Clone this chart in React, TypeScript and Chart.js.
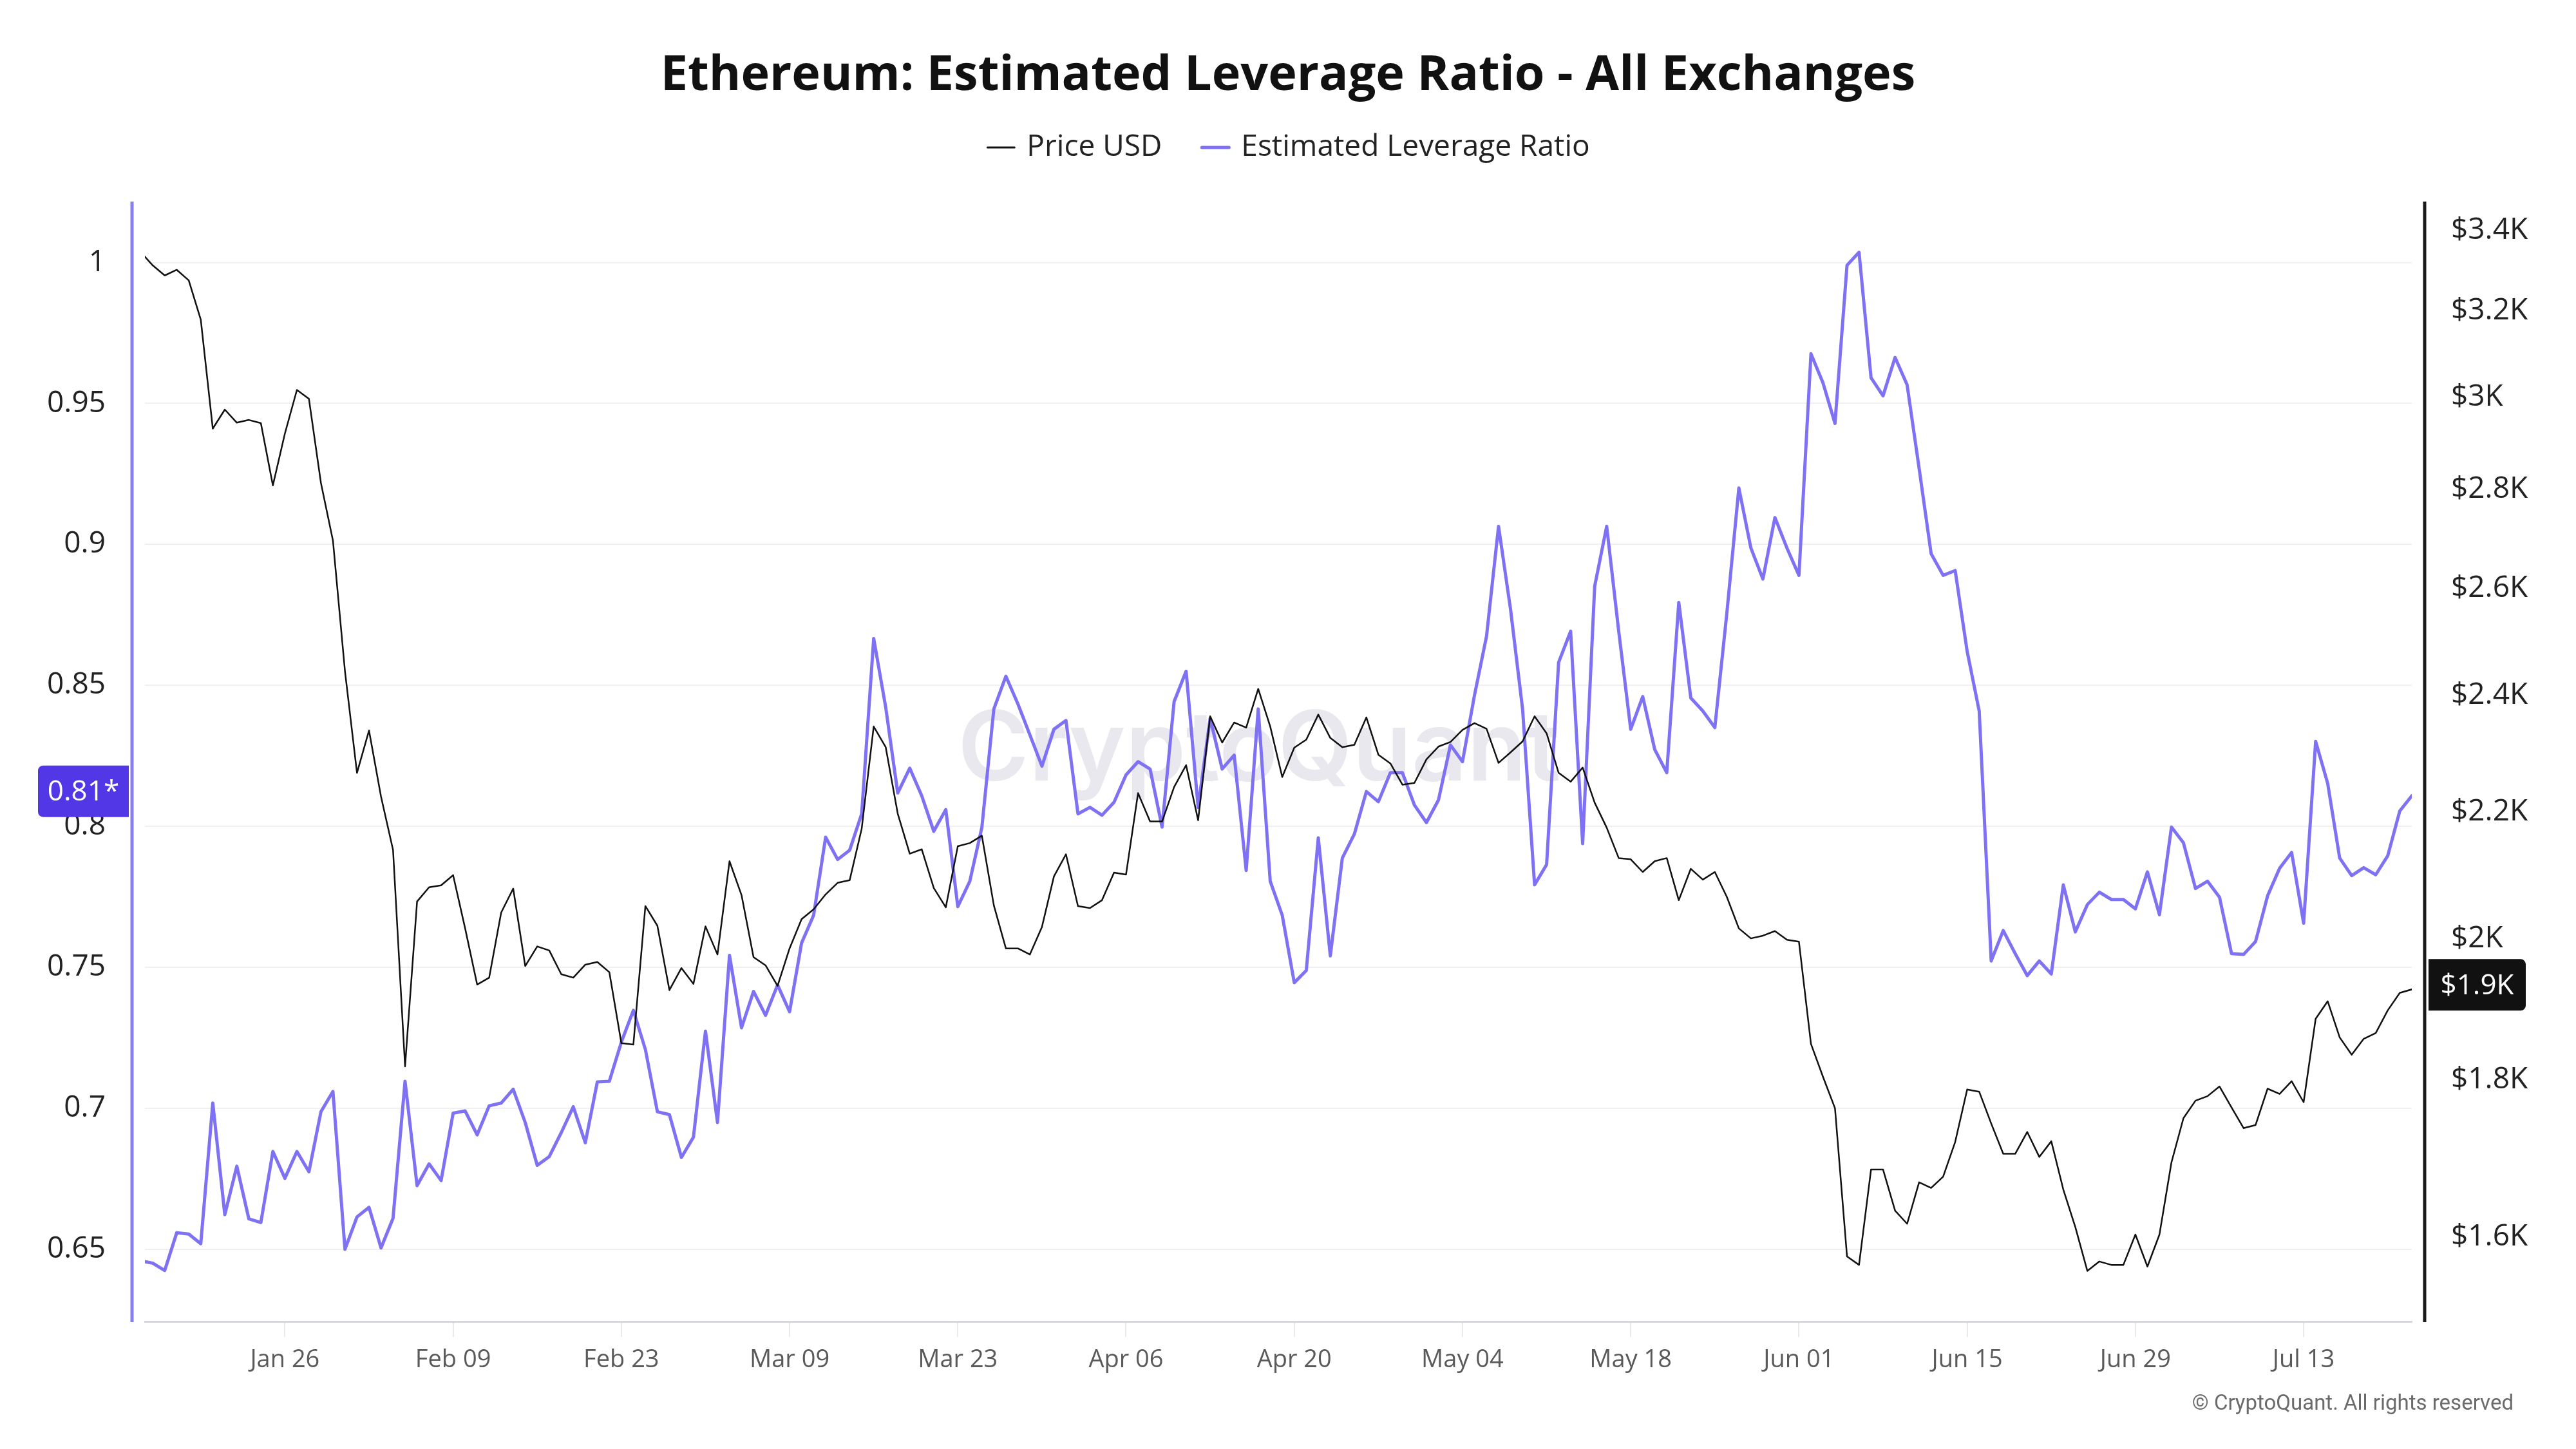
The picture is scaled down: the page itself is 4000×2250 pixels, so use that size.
import React, { useEffect, useRef } from "react";
import { Chart, registerables } from "chart.js";

Chart.register(...registerables);

// ---- data ----
// daily values from Jan 14 (day -1, partly clipped) to Jul 22 (day 188); day 0 = Jan 15
const firstDayIndex = -1;

const tickDays = [11, 25, 39, 53, 67, 81, 95, 109, 123, 137, 151, 165, 179];
const tickLabels = ["Jan 26", "Feb 09", "Feb 23", "Mar 09", "Mar 23", "Apr 06", "Apr 20", "May 04", "May 18", "Jun 01", "Jun 15", "Jun 29", "Jul 13"];

const leverageTicks = [0.65, 0.7, 0.75, 0.8, 0.85, 0.9, 0.95, 1];
const priceTicks = [1600, 1800, 2000, 2200, 2400, 2600, 2800, 3000, 3200, 3400];

const priceUsd = [
  3345,
  3312, 3287, 3301, 3275, 3180, 2931, 2973, 2944, 2950, 2943,
  2809, 2920, 3017, 2997, 2814, 2695, 2444, 2265, 2338, 2225,
  2138, 1818, 2057, 2079, 2082, 2098, 2016, 1933, 1943, 2040,
  2077, 1960, 1989, 1983, 1948, 1943, 1962, 1966, 1951, 1850,
  1848, 2050, 2020, 1925, 1957, 1934, 2019, 1977, 2120, 2067,
  1973, 1961, 1931, 1986, 2030, 2045, 2068, 2086, 2090, 2172,
  2345, 2309, 2197, 2132, 2139, 2078, 2048, 2144, 2149, 2161,
  2051, 1986, 1986, 1977, 2018, 2096, 2131, 2050, 2047, 2059,
  2102, 2099, 2231, 2184, 2184, 2241, 2278, 2186, 2363, 2317,
  2352, 2343, 2412, 2345, 2258, 2308, 2322, 2366, 2325, 2309,
  2313, 2361, 2296, 2281, 2245, 2248, 2288, 2310, 2318, 2339,
  2351, 2341, 2282, 2300, 2319, 2363, 2333, 2265, 2250, 2274,
  2215, 2174, 2125, 2123, 2103, 2120, 2125, 2059, 2108, 2091,
  2103, 2064, 2016, 2001, 2005, 2012, 1999, 1996, 1849, 1804,
  1762, 1577, 1567, 1683, 1683, 1632, 1616, 1667, 1660, 1674,
  1718, 1787, 1784, 1742, 1703, 1703, 1731, 1699, 1719, 1658,
  1612, 1560, 1571, 1567, 1567, 1603, 1565, 1603, 1692, 1749,
  1772, 1778, 1791, 1763, 1736, 1740, 1788, 1781, 1798, 1770,
  1884, 1909, 1858, 1834, 1856, 1864, 1896, 1921, 1926,
];

const leverageRatio = [
  0.6458,
  0.645, 0.6424, 0.6558, 0.6553, 0.6519, 0.7018, 0.6622, 0.6794, 0.6607, 0.6594,
  0.6846, 0.6751, 0.6846, 0.6774, 0.6987, 0.7059, 0.6499, 0.6614, 0.6648, 0.6504,
  0.6609, 0.7095, 0.6725, 0.6802, 0.6743, 0.6982, 0.699, 0.6905, 0.7008, 0.7018,
  0.7067, 0.6949, 0.6797, 0.6828, 0.6913, 0.7005, 0.6877, 0.7093, 0.7095, 0.7234,
  0.7347, 0.7208, 0.6987, 0.6977, 0.6825, 0.6897, 0.7273, 0.6949, 0.7542, 0.7285,
  0.7414, 0.7329, 0.7437, 0.7342, 0.7586, 0.7684, 0.7961, 0.7882, 0.7915, 0.8044,
  0.8666, 0.8422, 0.8118, 0.8206, 0.8108, 0.7982, 0.8059, 0.7715, 0.7805, 0.7995,
  0.8416, 0.8532, 0.8434, 0.8324, 0.8213, 0.8344, 0.8375, 0.8044, 0.8067, 0.8039,
  0.8085, 0.8182, 0.8229, 0.8203, 0.7997, 0.8442, 0.855, 0.8067, 0.8383, 0.8203,
  0.8252, 0.7843, 0.8416, 0.7805, 0.7684, 0.7445, 0.7488, 0.7959, 0.754, 0.7887,
  0.7972, 0.8123, 0.8087, 0.819, 0.819, 0.8075, 0.8013, 0.8093, 0.8288, 0.8229,
  0.8465, 0.8674, 0.9064, 0.8769, 0.8416, 0.7792, 0.7864, 0.8581, 0.8692, 0.7938,
  0.8851, 0.9064, 0.8692, 0.8344, 0.846, 0.8272, 0.819, 0.8794, 0.8455, 0.8409,
  0.835, 0.8756, 0.92, 0.8987, 0.8877, 0.9095, 0.8987, 0.889, 0.9676, 0.9573,
  0.9429, 0.999, 1.0036, 0.9591, 0.9527, 0.9663, 0.9566, 0.927, 0.8967, 0.889,
  0.8907, 0.862, 0.8409, 0.7522, 0.763, 0.7548, 0.747, 0.7522, 0.7476, 0.7792,
  0.7625, 0.7722, 0.7766, 0.774, 0.774, 0.7707, 0.7838, 0.7686, 0.7997, 0.7941,
  0.7779, 0.7805, 0.7748, 0.7548, 0.7545, 0.7591, 0.7753, 0.7851, 0.7907, 0.7656,
  0.8301, 0.8152, 0.7887, 0.7825, 0.7853, 0.7828, 0.7895, 0.8054, 0.8108,
];

// ---- styles ----
const PURPLE = "#7f71f3";
const PURPLE_AXIS = "#8a7ff0";
const BADGE_PURPLE = "#5137e6";
const BLACK = "#111111";
const FONT = '"Open Sans", "Noto Sans", sans-serif';

const W = 4000;
const H = 2250;

const toPoints = (arr: number[]) => arr.map((v, k) => ({ x: k + firstDayIndex, y: v }));

const watermarkPlugin = {
  id: "watermark",
  beforeDatasetsDraw(chart: any) {
    const { ctx, chartArea } = chart;
    ctx.save();
    ctx.font = `600 150px Inter, ${FONT}`;
    ctx.fillStyle = "#e8e8ee";
    ctx.textAlign = "center";
    ctx.textBaseline = "middle";
    ctx.fillText("CryptoQuant", (chartArea.left + chartArea.right) / 2 - 30, (chartArea.top + chartArea.bottom) / 2 - 16);
    ctx.restore();
  },
};

function roundRectPath(ctx: any, x: number, y: number, w: number, h: number, r: number[]) {
  ctx.beginPath();
  if (ctx.roundRect) {
    ctx.roundRect(x, y, w, h, r);
  } else {
    ctx.rect(x, y, w, h);
  }
}

const overlayPlugin = {
  id: "overlay",
  afterDraw(chart: any) {
    const { ctx, chartArea, scales } = chart;
    ctx.save();

    // axis lines, offset from the plot
    ctx.lineCap = "butt";
    ctx.lineWidth = 5;
    ctx.strokeStyle = PURPLE_AXIS;
    ctx.beginPath();
    ctx.moveTo(chartArea.left - 20, chartArea.top);
    ctx.lineTo(chartArea.left - 20, chartArea.bottom + 1);
    ctx.stroke();
    ctx.strokeStyle = "#1a1a1a";
    ctx.beginPath();
    ctx.moveTo(chartArea.right + 20, chartArea.top);
    ctx.lineTo(chartArea.right + 20, chartArea.bottom + 1);
    ctx.stroke();

    // last-value badges
    const lastLev = leverageRatio[leverageRatio.length - 1];
    const lastPrice = priceUsd[priceUsd.length - 1];
    const ly = scales.y.getPixelForValue(lastLev) - 7;
    const py = scales.y1.getPixelForValue(lastPrice) - 7;
    ctx.font = `44px ${FONT}`;
    ctx.textAlign = "center";
    ctx.textBaseline = "middle";

    const lw = 141;
    const lx = chartArea.left - 25 - lw;
    ctx.fillStyle = BADGE_PURPLE;
    roundRectPath(ctx, lx, ly - 40, lw, 80, [8, 0, 0, 8]);
    ctx.fill();
    ctx.fillStyle = "#ffffff";
    ctx.fillText(lastLev.toFixed(2) + "*", lx + lw / 2, ly + 2);

    const rw = 151;
    const rx = chartArea.right + 26;
    ctx.fillStyle = BLACK;
    roundRectPath(ctx, rx, py - 40, rw, 80, [0, 8, 8, 0]);
    ctx.fill();
    ctx.fillStyle = "#ffffff";
    ctx.fillText("$" + (lastPrice / 1000).toFixed(1) + "K", rx + rw / 2, py + 2);

    // legend
    const items = [
      { label: "Price USD", color: BLACK, width: 3 },
      { label: "Estimated Leverage Ratio", color: PURPLE, width: 5 },
    ];
    ctx.font = `46px ${FONT}`;
    const dash = 46;
    const gapText = 17;
    const gapItem = 60;
    const widths = items.map((it) => dash + gapText + ctx.measureText(it.label).width);
    const total = widths.reduce((a, b) => a + b, 0) + gapItem * (items.length - 1);
    let x = W / 2 - total / 2;
    const baseY = 242;
    items.forEach((it, k) => {
      ctx.strokeStyle = it.color;
      ctx.lineWidth = it.width;
      ctx.lineCap = "round";
      ctx.beginPath();
      ctx.moveTo(x + 2, 229);
      ctx.lineTo(x + dash - 2, 229);
      ctx.stroke();
      ctx.fillStyle = "#222222";
      ctx.textAlign = "left";
      ctx.textBaseline = "alphabetic";
      ctx.fillText(it.label, x + dash + gapText, baseY);
      x += widths[k] + gapItem;
    });

    // copyright
    ctx.font = `33px Roboto, ${FONT}`;
    ctx.fillStyle = "#6b6b6b";
    ctx.textAlign = "right";
    ctx.textBaseline = "middle";
    ctx.fillText("\u00A9 CryptoQuant. All rights reserved", 3903, 2181);

    ctx.restore();
  },
};

export default function App() {
  const canvasRef = useRef<HTMLCanvasElement | null>(null);

  useEffect(() => {
    const canvas = canvasRef.current;
    if (!canvas) return;
    const chart = new Chart(canvas, {
      type: "line",
      data: {
        datasets: [
          {
            label: "Price USD",
            data: toPoints(priceUsd),
            yAxisID: "y1",
            borderColor: BLACK,
            backgroundColor: BLACK,
            borderWidth: 2.5,
            pointRadius: 0,
            tension: 0,
            borderJoinStyle: "round",
            borderCapStyle: "round",
          },
          {
            label: "Estimated Leverage Ratio",
            data: toPoints(leverageRatio),
            yAxisID: "y",
            borderColor: PURPLE,
            backgroundColor: PURPLE,
            borderWidth: 5,
            pointRadius: 0,
            tension: 0,
            borderJoinStyle: "round",
            borderCapStyle: "round",
          },
        ],
      },
      options: {
        responsive: false,
        animation: false,
        devicePixelRatio: 1,
        layout: { padding: 0 },
        font: { family: FONT },
        plugins: {
          legend: { display: false },
          tooltip: { enabled: false },
          title: {
            display: true,
            text: "Ethereum: Estimated Leverage Ratio - All Exchanges",
            color: BLACK,
            font: { family: FONT, size: 75.5, weight: "bold", lineHeight: 1.2 },
            padding: { top: 73, bottom: 149.4 },
          },
        },
        scales: {
          x: {
            type: "linear",
            min: -0.65,
            max: 188,
            afterBuildTicks: (scale: any) => {
              scale.ticks = tickDays.map((v) => ({ value: v }));
            },
            afterFit: (scale: any) => {
              scale.height = 198;
            },
            grid: {
              drawOnChartArea: false,
              drawTicks: true,
              tickLength: 24,
              color: "#e8e8ee",
              lineWidth: 2,
            },
            border: { display: true, color: "#d6d6e1", width: 3 },
            ticks: {
              autoSkip: false,
              maxRotation: 0,
              padding: 13,
              color: "#5a5a5a",
              font: { family: FONT, size: 38 },
              callback: (v: any) => {
                const k = tickDays.indexOf(Number(v));
                return k >= 0 ? tickLabels[k] : "";
              },
            },
          },
          y: {
            type: "linear",
            position: "left",
            min: 0.6243,
            max: 1.0216,
            afterBuildTicks: (scale: any) => {
              scale.ticks = leverageTicks.map((v) => ({ value: v }));
            },
            afterFit: (scale: any) => {
              scale.width = 225;
            },
            grid: { color: "#f0f0f3", lineWidth: 2, drawTicks: false },
            border: { display: false },
            ticks: {
              autoSkip: false,
              padding: 61,
              color: "#222222",
              font: { family: FONT, size: 46 },
              callback: (v: any) => String(parseFloat(Number(v).toFixed(2))),
            },
          },
          y1: {
            type: "logarithmic",
            position: "right",
            min: 1502,
            max: 3474,
            afterBuildTicks: (scale: any) => {
              scale.ticks = priceTicks.map((v) => ({ value: v }));
            },
            afterFit: (scale: any) => {
              scale.width = 255;
            },
            grid: { display: false, drawTicks: false },
            border: { display: false },
            ticks: {
              autoSkip: false,
              padding: 61,
              color: "#222222",
              font: { family: FONT, size: 46 },
              callback: (v: any) => "$" + parseFloat((Number(v) / 1000).toFixed(1)) + "K",
            },
          },
        },
      } as any,
      plugins: [watermarkPlugin, overlayPlugin],
    });
    return () => chart.destroy();
  }, []);

  return (
    <div style={{ position: "fixed", left: 0, top: 0, width: W, height: H, background: "#ffffff" }}>
      <canvas ref={canvasRef} width={W} height={H} style={{ display: "block", width: W, height: H }} />
    </div>
  );
}
